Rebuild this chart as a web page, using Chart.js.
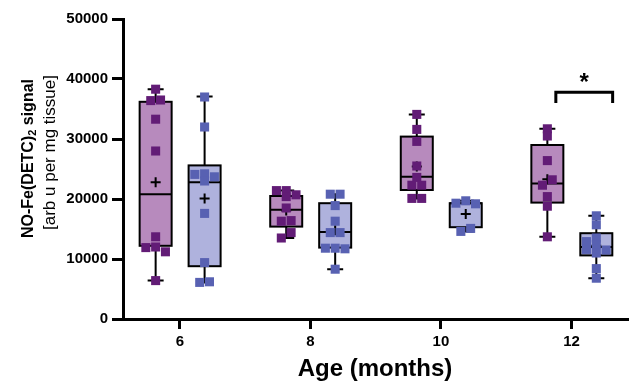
<!DOCTYPE html>
<html>
<head>
<meta charset="utf-8">
<script src="https://cdn.jsdelivr.net/npm/chart.js@4/dist/chart.umd.min.js"></script>
<style>
  html, body { margin: 0; padding: 0; background: #ffffff; }
  canvas { display: block; }
</style>
</head>
<body>
<canvas id="chart" width="634" height="386"></canvas>
<script>
// Ages (months) on the x axis and the tick labels of both axes
const ages = [6, 8, 10, 12];
const xTickLabels = [6, 8, 10, 12];
const yTickValues = [0, 10000, 20000, 30000, 40000, 50000];

// Individual measurements, first group (purple), one array per age
const purpleAt6 = [38300, 36500, 36400, 33300, 28000, 13700, 12000, 11900, 11200, 6400];
const purpleAt8 = [21400, 21400, 20700, 20400, 18500, 16400, 16300, 14400, 13500];
const purpleAt10 = [34100, 31600, 29600, 25500, 23600, 22300, 22300, 20100, 20100];
const purpleAt12 = [31700, 30500, 26400, 23200, 22300, 20400, 18800, 13700];

// Individual measurements, second group (blue), one array per age
const blueAt6 = [37000, 32000, 24200, 24100, 23700, 23000, 17600, 9400, 6200, 6100];
const blueAt8 = [20800, 20800, 18900, 16300, 14400, 14400, 11800, 11700, 11800, 8300];
const blueAt10 = [19700, 19300, 19200, 15100, 14600];
const blueAt12 = [17200, 15700, 13500, 12900, 12400, 11600, 11500, 11000, 8400, 6800];

// Box-and-whisker summaries (min, Q1, median, Q3, max) and means, by age
const purpleMin = [6400, 13500, 20100, 13700];
const purpleQ1 = [12200, 15400, 21500, 19400];
const purpleMedian = [20800, 18200, 23700, 22600];
const purpleQ3 = [36200, 20500, 30400, 29000];
const purpleMax = [38300, 21400, 34100, 31700];
const purpleMean = [22800, 18100, 25400, 23300];

const blueMin = [6100, 8300, 14600, 6800];
const blueQ1 = [8800, 11900, 15300, 10600];
const blueMedian = [22800, 14500, 19300, 12000];
const blueQ3 = [25600, 19300, 19300, 14300];
const blueMax = [37100, 20800, 19700, 17200];
const blueMean = [20100, 14800, 17500, 12200];

// Significance bracket between the two groups at 12 months
const bracketFrom = 11.76;
const bracketTo = 12.63;
const bracketLevel = 37800;
const bracketDrop = 36000;
const bracketLabel = '*';

// ---- drawing setup ----
const PURPLE_POINT = '#621c76';
const PURPLE_FILL = '#b78abd';
const BLUE_POINT = '#5861b2';
const BLUE_FILL = '#afb2dd';
const PURPLE_SHIFT = -0.37;
const BLUE_SHIFT = 0.38;
const BOX_WIDTH = 32;      // px
const CAP_WIDTH = 16;      // px
const SWARM_STEP = 0.15;   // horizontal spacing of overlapping points (months)
const SWARM_GAP = 1000;    // vertical distance under which points overlap

const groups = [
  {
    values: [purpleAt6, purpleAt8, purpleAt10, purpleAt12],
    min: purpleMin, q1: purpleQ1, median: purpleMedian, q3: purpleQ3, max: purpleMax, mean: purpleMean,
    shift: PURPLE_SHIFT, point: PURPLE_POINT, fill: PURPLE_FILL
  },
  {
    values: [blueAt6, blueAt8, blueAt10, blueAt12],
    min: blueMin, q1: blueQ1, median: blueMedian, q3: blueQ3, max: blueMax, mean: blueMean,
    shift: BLUE_SHIFT, point: BLUE_POINT, fill: BLUE_FILL
  }
];

// Spread points that would overlap sideways (simple beeswarm),
// then centre every cluster of neighbouring points on the column
function swarm(values, centre) {
  const placed = [];
  const sorted = [...values].sort((a, b) => b - a);
  for (const v of sorted) {
    for (let k = 0; k < 30; k++) {
      const step = k === 0 ? 0 : Math.ceil(k / 2) * (k % 2 ? -1 : 1);
      const off = step * SWARM_STEP;
      const clash = placed.some(p => Math.abs(p.y - v) < SWARM_GAP && Math.abs(p.off - off) < SWARM_STEP * 0.99);
      if (!clash) { placed.push({ off, y: v }); break; }
    }
  }
  // clusters: chains of points closer than SWARM_GAP in value
  let start = 0;
  for (let i = 1; i <= placed.length; i++) {
    if (i === placed.length || placed[i - 1].y - placed[i].y >= SWARM_GAP) {
      const part = placed.slice(start, i);
      const lo = Math.min(...part.map(p => p.off));
      const hi = Math.max(...part.map(p => p.off));
      part.forEach(p => { p.off -= (lo + hi) / 2; });
      start = i;
    }
  }
  return placed.map(p => ({ x: centre + p.off, y: p.y }));
}

// Mean markers sit underneath the data points
const meanDataset = {
  label: 'mean',
  data: [],
  pointStyle: 'cross',
  pointRadius: 5,
  borderWidth: 2,
  borderColor: '#000',
  backgroundColor: '#000',
  showLine: false,
  order: 2
};
groups.forEach(g => ages.forEach((a, i) => meanDataset.data.push({ x: a + g.shift, y: g.mean[i] })));

const pointDatasets = groups.map((g, gi) => ({
  label: gi === 0 ? 'group 1' : 'group 2',
  data: ages.flatMap((a, i) => swarm(g.values[i], a + g.shift)),
  pointStyle: 'rect',
  pointRadius: 6.4,
  pointHoverRadius: 6.4,
  borderWidth: 0,
  backgroundColor: g.point,
  borderColor: g.point,
  showLine: false,
  order: 1
}));

// Boxes, whiskers, medians and the significance bracket
const boxPlugin = {
  id: 'boxes',
  beforeDatasetsDraw(chart) {
    const { ctx, scales: { x, y } } = chart;
    ctx.save();
    ctx.strokeStyle = '#000';
    groups.forEach(g => {
      ages.forEach((a, i) => {
        const cx = x.getPixelForValue(a + g.shift);
        const yMin = y.getPixelForValue(g.min[i]);
        const yQ1 = y.getPixelForValue(g.q1[i]);
        const yMed = y.getPixelForValue(g.median[i]);
        const yQ3 = y.getPixelForValue(g.q3[i]);
        const yMax = y.getPixelForValue(g.max[i]);
        const half = BOX_WIDTH / 2;
        // whiskers with caps
        ctx.lineWidth = 2;
        ctx.beginPath();
        ctx.moveTo(cx, yQ3); ctx.lineTo(cx, yMax);
        ctx.moveTo(cx - CAP_WIDTH / 2, yMax); ctx.lineTo(cx + CAP_WIDTH / 2, yMax);
        ctx.moveTo(cx, yQ1); ctx.lineTo(cx, yMin);
        ctx.moveTo(cx - CAP_WIDTH / 2, yMin); ctx.lineTo(cx + CAP_WIDTH / 2, yMin);
        ctx.stroke();
        // box
        ctx.fillStyle = g.fill;
        ctx.fillRect(cx - half, yQ3, BOX_WIDTH, yQ1 - yQ3);
        ctx.lineWidth = 2;
        ctx.strokeRect(cx - half, yQ3, BOX_WIDTH, yQ1 - yQ3);
        // median
        ctx.beginPath();
        ctx.moveTo(cx - half, yMed); ctx.lineTo(cx + half, yMed);
        ctx.stroke();
      });
    });
    // significance bracket
    const bx1 = x.getPixelForValue(bracketFrom);
    const bx2 = x.getPixelForValue(bracketTo);
    const by = y.getPixelForValue(bracketLevel);
    const bd = y.getPixelForValue(bracketDrop);
    ctx.lineWidth = 3;
    ctx.lineJoin = 'miter';
    ctx.beginPath();
    ctx.moveTo(bx1, bd); ctx.lineTo(bx1, by); ctx.lineTo(bx2, by); ctx.lineTo(bx2, bd);
    ctx.stroke();
    ctx.fillStyle = '#000';
    ctx.font = 'bold 24px "Liberation Sans", Arial, sans-serif';
    ctx.textAlign = 'center';
    ctx.textBaseline = 'alphabetic';
    ctx.fillText(bracketLabel, (bx1 + bx2) / 2, by - 2);
    ctx.restore();
  }
};

// Two-line rotated y-axis title with a subscript
const yTitlePlugin = {
  id: 'yTitle',
  afterDraw(chart) {
    const { ctx } = chart;
    ctx.save();
    ctx.fillStyle = '#000';
    ctx.textBaseline = 'middle';
    ctx.textAlign = 'left';
    const big = 'bold 16px "Liberation Sans", Arial, sans-serif';
    const small = 'bold 11px "Liberation Sans", Arial, sans-serif';
    const parts = [
      { t: 'NO-Fe(DETC)', f: big, dy: 0 },
      { t: '2', f: small, dy: 4 },
      { t: ' signal', f: big, dy: 0 }
    ];
    let total = 0;
    parts.forEach(p => { ctx.font = p.f; p.w = ctx.measureText(p.t).width; total += p.w; });
    ctx.translate(28.5, 158.5);
    ctx.rotate(-Math.PI / 2);
    let cx = -total / 2;
    parts.forEach(p => { ctx.font = p.f; ctx.fillText(p.t, cx, p.dy); cx += p.w; });
    ctx.restore();

    ctx.save();
    ctx.fillStyle = '#000';
    ctx.textBaseline = 'middle';
    ctx.textAlign = 'center';
    ctx.font = '17px "Liberation Sans", Arial, sans-serif';
    ctx.translate(50, 152.5);
    ctx.rotate(-Math.PI / 2);
    ctx.fillText('[arb u per mg tissue]', 0, 0);
    ctx.restore();
  }
};

const whiteBg = {
  id: 'whiteBg',
  beforeDraw(chart) {
    const { ctx } = chart;
    ctx.save();
    ctx.fillStyle = '#ffffff';
    ctx.fillRect(0, 0, chart.width, chart.height);
    ctx.restore();
  }
};

const tickFont = { family: '"Liberation Sans", Arial, sans-serif', size: 15, weight: 'bold' };

new Chart(document.getElementById('chart'), {
  type: 'scatter',
  data: { datasets: [meanDataset, ...pointDatasets] },
  options: {
    responsive: false,
    animation: false,
    devicePixelRatio: 1,
    layout: { padding: { top: 19, right: 0, bottom: 0, left: 0 } },
    plugins: { legend: { display: false }, tooltip: { enabled: false } },
    scales: {
      x: {
        type: 'linear',
        min: 5.13,
        max: 12.85,
        afterBuildTicks(scale) { scale.ticks = xTickLabels.map(v => ({ value: v })); },
        afterFit(scale) { scale.height = 67; },
        ticks: { font: tickFont, color: '#000', padding: 4, callback: v => String(v) },
        grid: { drawOnChartArea: false, drawTicks: true, tickLength: 10, tickWidth: 3, tickColor: '#000', lineWidth: 3, color: '#000' },
        border: { display: true, width: 3, color: '#000' },
        title: {
          display: true,
          text: 'Age (months)',
          color: '#000',
          font: { family: '"Liberation Sans", Arial, sans-serif', size: 24, weight: 'bold' },
          padding: { top: 0, bottom: 2 }
        }
      },
      y: {
        type: 'linear',
        min: 0,
        max: 50000,
        afterBuildTicks(scale) { scale.ticks = yTickValues.map(v => ({ value: v })); },
        afterFit(scale) { scale.width = 123; },
        ticks: { font: tickFont, color: '#000', padding: 4, callback: v => String(v) },
        grid: { drawOnChartArea: false, drawTicks: true, tickLength: 11, tickWidth: 3, tickColor: '#000', lineWidth: 3, color: '#000' },
        border: { display: true, width: 3, color: '#000' }
      }
    }
  },
  plugins: [whiteBg, boxPlugin, yTitlePlugin]
});
</script>
</body>
</html>
